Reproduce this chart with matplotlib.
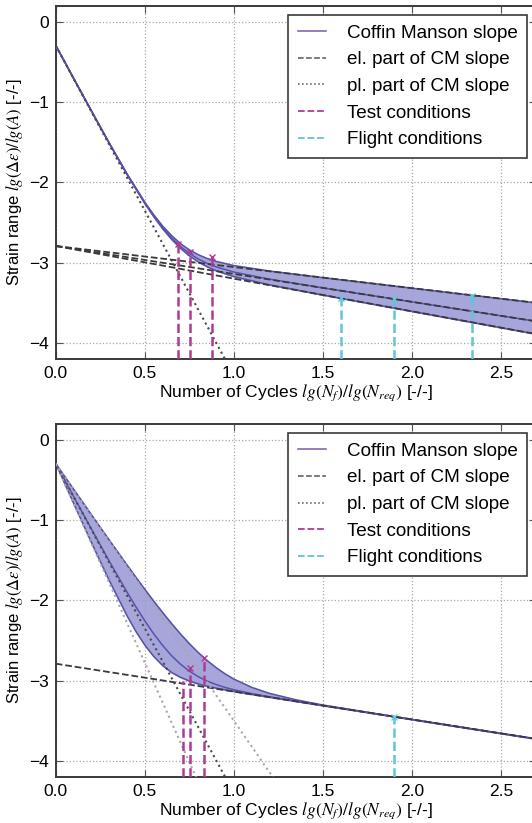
import matplotlib
matplotlib.use("Agg")
import matplotlib.pyplot as plt

plt.rcParams["font.family"] = ["Liberation Sans", "DejaVu Sans"]
plt.rcParams["mathtext.fontset"] = "stix"

# ---- data ----
# top panel: scatter in the elastic part
x_top = [0, 0.1, 0.2, 0.3, 0.4, 0.5, 0.55, 0.6, 0.65, 0.7, 0.75, 0.8, 0.85,
         0.9, 1.0, 1.2, 1.5, 2.0, 2.5, 2.7]
cm_top_mid = [-0.299, -0.707, -1.112, -1.512, -1.898, -2.256, -2.417, -2.562,
              -2.689, -2.795, -2.882, -2.951, -3.006, -3.049, -3.114, -3.202,
              -3.311, -3.484, -3.658, -3.727]
cm_top_up = [-0.299, -0.707, -1.112, -1.511, -1.895, -2.247, -2.403, -2.543,
             -2.660, -2.760, -2.838, -2.898, -2.945, -2.981, -3.033, -3.101,
             -3.183, -3.314, -3.445, -3.497]
cm_top_lo = [-0.299, -0.707, -1.112, -1.512, -1.900, -2.261, -2.425, -2.575,
             -2.706, -2.818, -2.911, -2.987, -3.047, -3.096, -3.170, -3.272,
             -3.399, -3.602, -3.805, -3.886]
el_x = [0, 2.7]
el_top = [[-2.79, -3.727], [-2.79, -3.497], [-2.79, -3.886]]
pl_top_x = [0, 1.0]
pl_top = [-0.3, -4.4]
test_top_x = [0.685, 0.754, 0.876]
test_top_y = [-2.76, -2.87, -2.93]
flight_top_x = [1.6, 1.9, 2.34]
flight_top_y = [-3.44, -3.45, -3.41]

# bottom panel: scatter in the plastic part
x_bot = [0, 0.1, 0.2, 0.3, 0.4, 0.45, 0.5, 0.55, 0.6, 0.65, 0.7, 0.75, 0.8,
         0.85, 0.9, 0.95, 1.0, 1.1, 1.2, 1.35, 1.5, 2.0, 2.5, 2.7]
cm_bot_mid = [-0.299, -0.707, -1.112, -1.512, -1.898, -2.081, -2.256, -2.417,
              -2.562, -2.689, -2.795, -2.882, -2.951, -3.006, -3.049, -3.085,
              -3.114, -3.162, -3.202, -3.257, -3.311, -3.484, -3.658, -3.727]
cm_bot_up = [-0.299, -0.617, -0.935, -1.250, -1.561, -1.714, -1.864, -2.011,
             -2.153, -2.289, -2.419, -2.540, -2.651, -2.750, -2.838, -2.915,
             -2.981, -3.084, -3.159, -3.240, -3.304, -3.484, -3.658, -3.727]
cm_bot_lo = [-0.299, -0.791, -1.279, -1.753, -2.192, -2.388, -2.558, -2.699,
             -2.812, -2.898, -2.959, -3.005, -3.041, -3.069, -3.093, -3.114,
             -3.134, -3.171, -3.206, -3.259, -3.311, -3.484, -3.658, -3.727]
el_bot = [-2.79, -3.727]
pl_bot_x = [[0, 1.0], [0, 1.3], [0, 0.85]]
pl_bot = [[-0.3, -4.4], [-0.3, -4.46], [-0.3, -4.51]]
test_bot_x = [0.716, 0.754, 0.834]
test_bot_y = [-3.0, -2.84, -2.72]
flight_bot_x = [1.9]
flight_bot_y = [-3.45]

cm_col = "#5a52aa"
fill_col = "#9c9cd8"
test_col = "#b03a92"
flight_col = "#5ec6d6"


def style(ax):
    ax.set_xlim(0, 2.7)
    ax.set_ylim(-4.2, 0.2)
    ax.set_xticks([0, 0.5, 1.0, 1.5, 2.0, 2.5])
    ax.set_yticks([0, -1, -2, -3, -4])
    ax.set_yticklabels(["0", "\u22121", "\u22122", "\u22123", "\u22124"])
    ax.set_xticklabels(["0.0", "0.5", "1.0", "1.5", "2.0", "2.5"])
    ax.grid(True, color="#a8a8a8", linestyle=":", linewidth=0.9)
    ax.tick_params(direction="in", top=True, right=True, labelsize=12.5,
                   length=5, color="#555555", pad=5)
    for s in ax.spines.values():
        s.set_color("#3a3a3a")
        s.set_linewidth(1.4)
    ax.set_xlabel(r"Number of Cycles $lg(N_f)/lg(N_{req})$ [-/-]", fontsize=12.5,
                  labelpad=1)
    ax.set_ylabel(r"Strain range $lg(\Delta\epsilon)/lg(A)$ [-/-]", fontsize=12,
                  labelpad=3)


fig = plt.figure(figsize=(5.32, 8.23), dpi=100)
ax1 = fig.add_axes([0.1049, 0.5633, 0.9034, 0.4300])
ax2 = fig.add_axes([0.1049, 0.0560, 0.9034, 0.4292])

# top
ax1.fill_between(x_top, cm_top_up, cm_top_lo, color=fill_col, alpha=0.9, zorder=2)
ax1.plot(x_top, cm_top_mid, color=cm_col, lw=1.1, zorder=3)
ax1.plot(x_top, cm_top_up, color=cm_col, lw=1.1, zorder=3)
ax1.plot(x_top, cm_top_lo, color=cm_col, lw=1.1, zorder=3)
for ys in el_top:
    ax1.plot(el_x, ys, color="#3a3a3a", ls="--", lw=1.3, zorder=4)
ax1.plot(pl_top_x, pl_top, color="#4a4a4a", ls=":", lw=1.5, zorder=4)
ax1.vlines(test_top_x, -4.2, test_top_y, colors=test_col, linestyles="--", lw=1.8, zorder=5)
ax1.plot(test_top_x, test_top_y, "x", color=test_col, ms=5, zorder=5)
ax1.vlines(flight_top_x, -4.2, flight_top_y, colors=flight_col, linestyles="--", lw=1.8, zorder=5)
ax1.plot(flight_top_x, flight_top_y, "x", color=flight_col, ms=5, zorder=5)

# bottom
ax2.fill_between(x_bot, cm_bot_up, cm_bot_lo, color=fill_col, alpha=0.9, zorder=2)
ax2.plot(x_bot, cm_bot_mid, color=cm_col, lw=1.1, zorder=3)
ax2.plot(x_bot, cm_bot_up, color=cm_col, lw=1.1, zorder=3)
ax2.plot(x_bot, cm_bot_lo, color=cm_col, lw=1.1, zorder=3)
ax2.plot(el_x, el_bot, color="#3a3a3a", ls="--", lw=1.3, zorder=4)
pl_cols = ["#4a4a4a", "#a8a8a8", "#a8a8a8"]
for xs, ys, c in zip(pl_bot_x, pl_bot, pl_cols):
    ax2.plot(xs, ys, color=c, ls=":", lw=1.5, zorder=4)
ax2.vlines(test_bot_x, -4.2, test_bot_y, colors=test_col, linestyles="--", lw=1.8, zorder=5)
ax2.plot(test_bot_x[1:], test_bot_y[1:], "x", color=test_col, ms=5, zorder=5)
ax2.vlines(flight_bot_x, -4.2, flight_bot_y, colors=flight_col, linestyles="--", lw=1.8, zorder=5)
ax2.plot(flight_bot_x, flight_bot_y, "x", color=flight_col, ms=5, zorder=5)

labels = ["Coffin Manson slope", "el. part of CM slope", "pl. part of CM slope",
          "Test conditions", "Flight conditions"]
for ax in (ax1, ax2):
    style(ax)
    h_cm, = ax.plot([], [], color="#7a5aa8", lw=1.1)
    h_el, = ax.plot([], [], color="#555555", ls="--", lw=1.1)
    h_pl, = ax.plot([], [], color="#555555", ls=":", lw=1.1)
    h_t, = ax.plot([], [], color=test_col, ls="--", lw=1.3)
    h_f, = ax.plot([], [], color=flight_col, ls="--", lw=1.3)
    leg = ax.legend([h_cm, h_el, h_pl, h_t, h_f], labels, loc="upper right",
                    fontsize=13.6, fancybox=False, framealpha=1, labelspacing=0.5,
                    handlelength=1.5, handletextpad=1.1, borderpad=0.5,
                    borderaxespad=0.5)
    leg.get_frame().set_edgecolor("#3a3a3a")
    leg.get_frame().set_linewidth(1.2)
    leg.set_zorder(10)

fig.savefig("out.png", dpi=100)
